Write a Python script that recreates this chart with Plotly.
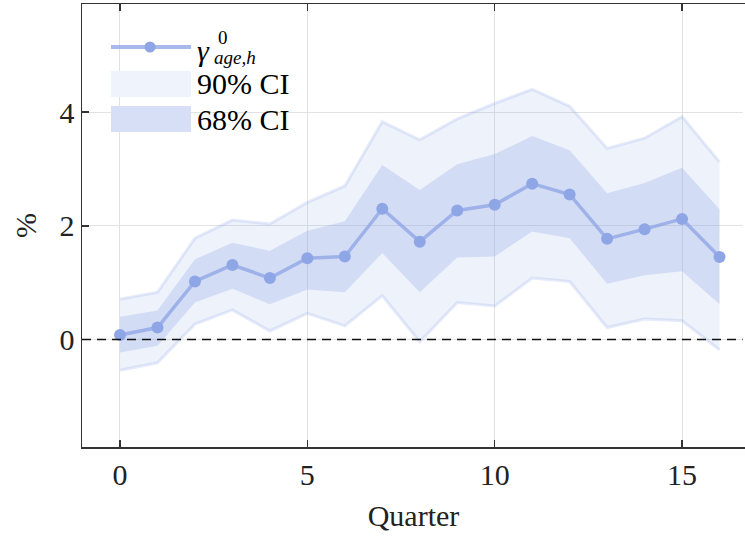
import plotly.graph_objects as go

quarters = list(range(17))
estimate = [0.08, 0.21, 1.02, 1.31, 1.08, 1.43, 1.46, 2.30, 1.72, 2.27, 2.37, 2.74, 2.55, 1.77, 1.94, 2.12, 1.45]
ci90_upper = [0.71, 0.83, 1.78, 2.10, 2.03, 2.41, 2.70, 3.83, 3.51, 3.88, 4.15, 4.40, 4.10, 3.36, 3.54, 3.92, 3.12]
ci90_lower = [-0.54, -0.41, 0.27, 0.52, 0.15, 0.46, 0.24, 0.77, -0.04, 0.65, 0.59, 1.08, 1.02, 0.21, 0.36, 0.33, -0.18]
ci68_upper = [0.40, 0.51, 1.41, 1.70, 1.56, 1.91, 2.08, 3.07, 2.63, 3.08, 3.26, 3.58, 3.33, 2.57, 2.75, 3.02, 2.29]
ci68_lower = [-0.23, -0.11, 0.65, 0.89, 0.62, 0.88, 0.83, 1.52, 0.83, 1.44, 1.46, 1.90, 1.78, 0.98, 1.13, 1.20, 0.62]
x_ticks = [0, 5, 10, 15]
y_ticks = [0, 2, 4]

BLUE = "#8fa6e6"
LINE = "rgba(143,166,230,0.78)"
FILL90 = "rgba(143,166,230,0.15)"
EDGE90 = "rgba(143,166,230,0.22)"
FILL68 = "rgba(143,166,230,0.28)"
FONT = "Liberation Serif"
AX = "#333333"

fig = go.Figure()
fig.add_trace(go.Scatter(x=quarters, y=ci90_lower, mode="lines",
                         line=dict(color=EDGE90, width=3), showlegend=False, hoverinfo="skip"))
fig.add_trace(go.Scatter(x=quarters, y=ci90_upper, mode="lines", fill="tonexty", fillcolor=FILL90,
                         line=dict(color=EDGE90, width=3), showlegend=False, hoverinfo="skip"))
fig.add_trace(go.Scatter(x=quarters, y=ci68_lower, mode="lines",
                         line=dict(color="rgba(0,0,0,0)", width=0), showlegend=False, hoverinfo="skip"))
fig.add_trace(go.Scatter(x=quarters, y=ci68_upper, mode="lines", fill="tonexty", fillcolor=FILL68,
                         line=dict(color="rgba(0,0,0,0)", width=0), showlegend=False, hoverinfo="skip"))
fig.add_trace(go.Scatter(x=quarters, y=estimate, mode="lines+markers",
                         line=dict(color=LINE, width=3.5),
                         marker=dict(color=BLUE, size=12), showlegend=False))

# zero line
fig.add_shape(type="line", xref="paper", yref="y", x0=0, x1=1, y0=0, y1=0,
              line=dict(color="#111111", width=1.5, dash="9px,6px"), layer="above")

# pixel -> paper conversion
L, R, T, B = 82, 745, 4, 447
def px(xp):
    return (xp - L) / (R - L)
def py(yp):
    return (B - yp) / (B - T)

# the reference has no right spine: keep the plot's right edge clean
fig.add_shape(type="rect", xref="paper", yref="paper", x0=px(742.6), x1=1.01, y0=py(445.6), y1=py(5.4),
              fillcolor="white", line=dict(width=0), layer="above")

# manual legend
fig.add_shape(type="line", xref="paper", yref="paper", x0=px(111), x1=px(191), y0=py(47), y1=py(47),
              line=dict(color=LINE, width=4))
fig.add_shape(type="circle", xref="paper", yref="paper", x0=px(144.5), x1=px(155.5), y0=py(41.5), y1=py(52.5),
              fillcolor=BLUE, line=dict(width=0))
fig.add_shape(type="rect", xref="paper", yref="paper", x0=px(111), x1=px(191), y0=py(71), y1=py(97),
              fillcolor="#eff3fc", line=dict(width=0))
fig.add_shape(type="rect", xref="paper", yref="paper", x0=px(111), x1=px(191), y0=py(106), y1=py(132),
              fillcolor="#d6dff5", line=dict(width=0))

def ann(text, x, y, size):
    fig.add_annotation(text=text, xref="paper", yref="paper", x=px(x), y=py(y),
                       xanchor="left", yanchor="middle", showarrow=False,
                       font=dict(family=FONT, size=size, color="black"))

ann("<i>γ</i>", 195, 50, 30)
ann("0", 216, 37, 19)
ann("<i>age,h</i>", 212, 58, 19)
ann("90% CI", 195, 84, 30)
ann("68% CI", 195, 119, 30)

axis_common = dict(showline=True, linecolor=AX, linewidth=1.5,
                   ticks="inside", ticklen=7, tickwidth=1.5, tickcolor=AX,
                   showgrid=True, gridcolor="#e2e2e2", gridwidth=1, zeroline=False,
                   tickfont=dict(family=FONT, size=30, color="#222222"))

fig.update_xaxes(range=[-1.014, 16.68], tickvals=x_ticks, mirror="ticks",
                 title=dict(text="Quarter", font=dict(family=FONT, size=30, color="#222222"), standoff=15),
                 **axis_common)
fig.update_yaxes(range=[-1.891, 5.90], tickvals=y_ticks, mirror=False,
                 title=dict(text="%", font=dict(family=FONT, size=30, color="#222222"), standoff=14),
                 **axis_common)

fig.update_layout(width=745, height=536, margin=dict(l=L, r=745 - R, t=T, b=536 - B),
                  plot_bgcolor="white", paper_bgcolor="white", showlegend=False)

fig.write_html("out.html", config={"staticPlot": True})
